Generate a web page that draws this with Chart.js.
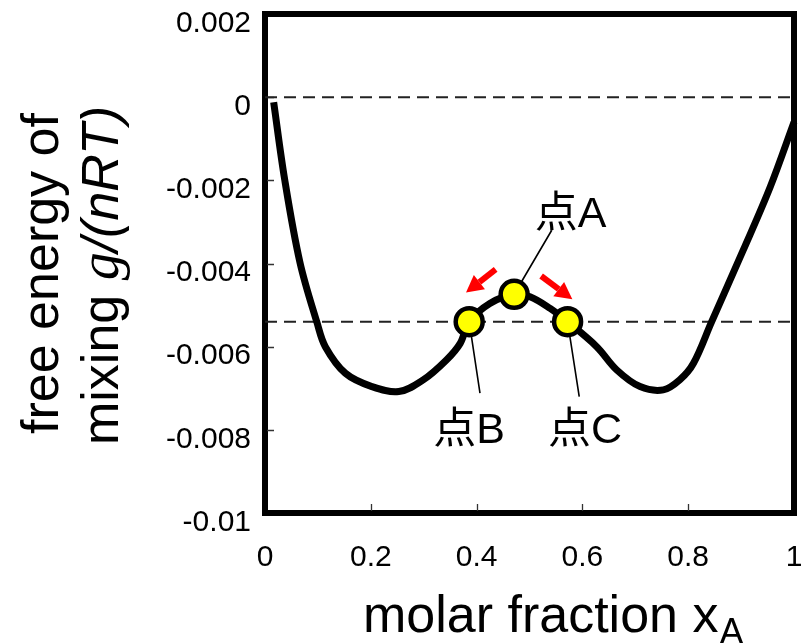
<!DOCTYPE html>
<html>
<head>
<meta charset="utf-8">
<script src="https://cdn.jsdelivr.net/npm/chart.js@4.4.1/dist/chart.umd.min.js"></script>
<style>
  html, body { margin: 0; padding: 0; background: #fff; }
</style>
</head>
<body>
<canvas id="chart" width="801" height="643"></canvas>
<script>
// ── data ──
const xTickLabels = ['0', '0.2', '0.4', '0.6', '0.8', '1'];
const yTickLabels = ['-0.01', '-0.008', '-0.006', '-0.004', '-0.002', '0', '0.002'];

// free energy curve
const curveX = [0.0164, 0.0372, 0.0662, 0.0983, 0.114, 0.152, 0.202, 0.253, 0.299,
                0.343, 0.369, 0.386, 0.425, 0.471, 0.501, 0.539, 0.572, 0.627, 0.665,
                0.709, 0.753, 0.784, 0.81, 0.844, 0.904, 0.955, 1.0];
const curveY = [-0.00012, -0.00198, -0.00398, -0.00542, -0.0060, -0.00664, -0.00696, -0.00708, -0.0068,
                -0.00632, -0.00592, -0.0054, -0.00496, -0.00474, -0.0048, -0.00508, -0.0054, -0.0060, -0.00656,
                -0.00696, -0.00704, -0.0068, -0.0064, -0.00541, -0.00368, -0.00216, -0.0006];

// dashed reference levels
const refLevels = [0, -0.0054];

// points A, B, C
const pointNames = ['点A', '点B', '点C'];
const pointX = [0.471, 0.386, 0.572];
const pointY = [-0.00474, -0.0054, -0.0054];

// label anchors (text baseline, data units) and leader line starts
const labelX = [0.5775, 0.3856, 0.6049];
const labelY = [-0.00313, -0.00831, -0.00831];
const leaderX = [0.542, 0.4064, 0.594];
const leaderY = [-0.0032, -0.00712, -0.0072];

// red arrows: tail -> tip
const arrowTailX = [0.436, 0.522];
const arrowTailY = [-0.00414, -0.00430];
const arrowTipX = [0.380, 0.581];
const arrowTipY = [-0.00470, -0.00486];

const SANS = '"Liberation Sans", Arial, "Noto Sans CJK JP", sans-serif';

// frame, inner tick marks and leader lines (under the data)
const framePlugin = {
    id: 'frame',
    beforeDatasetsDraw(chart) {
        const { ctx, chartArea: a, scales: { x, y } } = chart;
        ctx.save();
        ctx.strokeStyle = '#000';
        ctx.lineWidth = 6;
        ctx.strokeRect(a.left, a.top, a.right - a.left, a.bottom - a.top);

        ctx.strokeStyle = '#333';
        ctx.lineWidth = 1.3;
        ctx.beginPath();
        y.ticks.slice(1, -1).forEach(t => {
            const py = Math.round(y.getPixelForValue(t.value)) + 0.5;
            ctx.moveTo(a.left + 2, py);
            ctx.lineTo(a.left + 9, py);
        });
        x.ticks.slice(1, -1).forEach(t => {
            const px = Math.round(x.getPixelForValue(t.value)) + 0.5;
            ctx.moveTo(px, a.bottom - 2);
            ctx.lineTo(px, a.bottom - 9);
        });
        ctx.stroke();

        // leader lines from labels to points
        ctx.strokeStyle = '#000';
        ctx.lineWidth = 1.6;
        ctx.beginPath();
        pointX.forEach((px, i) => {
            ctx.moveTo(x.getPixelForValue(leaderX[i]), y.getPixelForValue(leaderY[i]));
            ctx.lineTo(x.getPixelForValue(px), y.getPixelForValue(pointY[i]));
        });
        ctx.stroke();
        ctx.restore();
    }
};

// arrows, point labels and axis titles
const notesPlugin = {
    id: 'notes',
    afterDatasetsDraw(chart) {
        const { ctx, chartArea: a, scales: { x, y } } = chart;
        ctx.save();

        // red arrows
        ctx.fillStyle = '#ff0000';
        ctx.strokeStyle = '#ff0000';
        arrowTailX.forEach((tx, i) => {
            const x0 = x.getPixelForValue(tx), y0 = y.getPixelForValue(arrowTailY[i]);
            const x1 = x.getPixelForValue(arrowTipX[i]), y1 = y.getPixelForValue(arrowTipY[i]);
            const ang = Math.atan2(y1 - y0, x1 - x0);
            const headLen = 17, headW = 9;
            const bx = x1 - headLen * Math.cos(ang), by = y1 - headLen * Math.sin(ang);
            ctx.lineWidth = 6;
            ctx.beginPath();
            ctx.moveTo(x0, y0);
            ctx.lineTo(bx, by);
            ctx.stroke();
            ctx.beginPath();
            ctx.moveTo(x1, y1);
            ctx.lineTo(bx + headW * Math.sin(ang), by - headW * Math.cos(ang));
            ctx.lineTo(bx - headW * Math.sin(ang), by + headW * Math.cos(ang));
            ctx.closePath();
            ctx.fill();
        });

        // point labels
        ctx.fillStyle = '#000';
        ctx.font = '43px ' + SANS;
        ctx.textAlign = 'center';
        ctx.textBaseline = 'alphabetic';
        pointNames.forEach((name, i) => {
            ctx.fillText(name, x.getPixelForValue(labelX[i]), y.getPixelForValue(labelY[i]));
        });

        // x axis title with subscript
        ctx.textAlign = 'left';
        ctx.font = '52px ' + SANS;
        const tx = a.left + 98, ty = a.bottom + 119;
        ctx.fillText('molar fraction x', tx, ty);
        const w = ctx.measureText('molar fraction x').width;
        ctx.font = '36px ' + SANS;
        ctx.fillText('A', tx + w + 1, ty + 12);

        // y axis title, two rotated lines
        const cy = (a.top + a.bottom) / 2 + 10;
        ctx.save();
        ctx.translate(58, cy);
        ctx.rotate(-Math.PI / 2);
        ctx.font = '52px ' + SANS;
        ctx.textAlign = 'center';
        ctx.fillText('free energy of', 0, 0);
        ctx.restore();

        const parts = [
            ['mixing ', '52px ' + SANS],
            ['g', 'italic 56px "Liberation Serif", "DejaVu Serif", serif'],
            ['/(nRT)', 'italic 52px ' + SANS]
        ];
        ctx.save();
        ctx.translate(118, cy + 2);
        ctx.rotate(-Math.PI / 2);
        ctx.textAlign = 'left';
        let total = 0;
        parts.forEach(p => { ctx.font = p[1]; total += ctx.measureText(p[0]).width; });
        let cx = -total / 2;
        parts.forEach(p => {
            ctx.font = p[1];
            ctx.fillText(p[0], cx, 0);
            cx += ctx.measureText(p[0]).width;
        });
        ctx.restore();

        ctx.restore();
    }
};

const datasets = [
    {
        data: pointX.map((v, i) => ({ x: v, y: pointY[i] })),
        showLine: false,
        pointRadius: 13.5,
        pointBackgroundColor: '#ffff00',
        pointBorderColor: '#000',
        pointBorderWidth: 4.5,
        clip: false,
        order: 0
    },
    {
        data: curveX.map((v, i) => ({ x: v, y: curveY[i] })),
        showLine: true,
        borderColor: '#000',
        borderWidth: 7,
        borderCapStyle: 'butt',
        tension: 0.35,
        pointRadius: 0,
        clip: false,
        order: 1
    }
].concat(refLevels.map(lvl => ({
    data: [{ x: 0, y: lvl }, { x: 1, y: lvl }],
    showLine: true,
    borderColor: '#222',
    borderWidth: 2,
    borderDash: [12, 7],
    pointRadius: 0,
    order: 2
})));

new Chart(document.getElementById('chart'), {
    type: 'scatter',
    data: { datasets },
    options: {
        responsive: false,
        animation: false,
        events: [],
        layout: { autoPadding: false, padding: { top: 14, right: 7, left: 0, bottom: 0 } },
        plugins: { legend: { display: false }, tooltip: { enabled: false } },
        scales: {
            x: {
                type: 'linear',
                min: 0,
                max: 1,
                grid: { display: false, drawTicks: false },
                border: { display: false },
                ticks: {
                    stepSize: 0.2,
                    autoSkip: false,
                    maxRotation: 0,
                    padding: 27,
                    color: '#000',
                    font: { family: SANS, size: 30 },
                    callback: (v, i) => xTickLabels[i]
                },
                afterFit: s => { s.height = 130; s.paddingLeft = 0; s.paddingRight = 0; }
            },
            y: {
                type: 'linear',
                min: -0.01,
                max: 0.002,
                grid: { display: false, drawTicks: false },
                border: { display: false },
                ticks: {
                    stepSize: 0.002,
                    autoSkip: false,
                    padding: 14,
                    labelOffset: 9.5,
                    color: '#000',
                    font: { family: SANS, size: 30 },
                    callback: (v, i) => yTickLabels[i]
                },
                afterFit: s => { s.width = 265; s.paddingTop = 0; s.paddingBottom = 0; }
            }
        }
    },
    plugins: [framePlugin, notesPlugin]
});
</script>
</body>
</html>
